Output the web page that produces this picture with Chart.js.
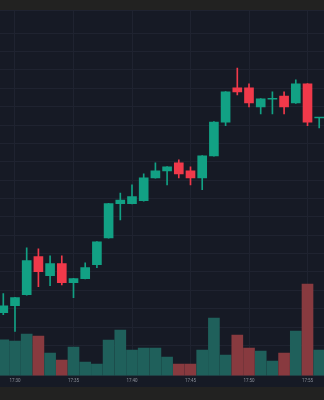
<!DOCTYPE html>
<html>
<head>
<meta charset="utf-8">
<script src="https://cdn.jsdelivr.net/npm/chart.js@4.4.1/dist/chart.umd.min.js"></script>
<style>
  html, body { margin: 0; padding: 0; width: 324px; height: 400px; overflow: hidden; background: #222221; }
  #wrap { position: absolute; left: 0; top: 10px; width: 324px; height: 377px; background: #161a25; }
</style>
</head>
<body>
<div id="wrap"><canvas id="chart" width="324" height="377"></canvas></div>
<script>
// one candle per minute, 17:29 .. 17:56
const times = ['17:29', '17:30', '17:31', '17:32', '17:33', '17:34', '17:35', '17:36', '17:37', '17:38',
  '17:39', '17:40', '17:41', '17:42', '17:43', '17:44', '17:45', '17:46', '17:47', '17:48',
  '17:49', '17:50', '17:51', '17:52', '17:53', '17:54', '17:55', '17:56'];

const opens = [104.89, 105.08, 105.38, 106.42, 105.90, 106.23, 105.71, 105.82, 106.20, 106.93,
  107.86, 107.86, 107.94, 108.56, 108.75, 108.97, 108.75, 108.56, 109.16, 110.08,
  111.01, 111.01, 110.49, 110.70, 110.79, 110.60, 111.12, 110.19];
const highs = [105.41, 105.31, 106.66, 106.63, 106.44, 106.44, 105.83, 106.25, 106.83, 107.87,
  108.15, 108.37, 108.67, 108.97, 108.87, 109.05, 108.86, 109.17, 110.09, 110.91,
  111.55, 111.12, 110.72, 110.90, 110.90, 111.23, 111.13, 110.21];
const lows = [104.84, 104.38, 105.37, 105.60, 105.63, 105.65, 105.30, 105.81, 106.12, 106.92,
  107.42, 107.85, 107.93, 108.55, 108.37, 108.56, 108.37, 108.24, 109.15, 109.98,
  110.82, 110.49, 110.30, 110.30, 110.30, 110.59, 109.98, 109.92];
const closes = [105.08, 105.30, 106.31, 106.01, 106.23, 105.71, 105.82, 106.12, 106.82, 107.86,
  107.96, 108.05, 108.56, 108.75, 108.86, 108.67, 108.56, 109.16, 110.08, 110.90,
  110.90, 110.60, 110.71, 110.71, 110.49, 111.12, 110.08, 110.20];
const volumes = [358, 345, 415, 395, 225, 155, 285, 135, 115, 355,
  455, 255, 275, 275, 185, 115, 115, 255, 575, 205,
  405, 275, 245, 145, 225, 445, 915, 255];

const upColor = '#12a184';
const downColor = '#f0394a';
const upVol = '#1f605b';
const downVol = '#883a3f';
const gridColor = '#1f2330';

// x = minutes after 17:30
const xs = times.map((t, i) => i - 1);
const isUp = opens.map((o, i) => closes[i] >= o);

const bodies = xs.map((x, i) => ({ x: x, y: [opens[i], closes[i]] }));
const wicks = xs.map((x, i) => ({ x: x, y: [lows[i], highs[i]] }));
const vols = xs.map((x, i) => ({ x: x, y: volumes[i] }));
const candleColors = isUp.map((u) => (u ? upColor : downColor));
const volColors = isUp.map((u) => (u ? upVol : downVol));

new Chart(document.getElementById('chart'), {
  type: 'bar',
  data: {
    datasets: [
      {
        data: bodies,
        yAxisID: 'y',
        backgroundColor: candleColors,
        barThickness: 9,
        minBarLength: 1,
        grouped: false,
        order: 0
      },
      {
        data: wicks,
        yAxisID: 'y',
        backgroundColor: candleColors,
        barThickness: 1,
        grouped: false,
        order: 1
      },
      {
        data: vols,
        yAxisID: 'v',
        backgroundColor: volColors,
        barThickness: 11,
        grouped: false,
        order: 2
      }
    ]
  },
  options: {
    responsive: false,
    animation: false,
    layout: { padding: 0 },
    plugins: {
      legend: { display: false },
      tooltip: { enabled: false }
    },
    scales: {
      x: {
        type: 'linear',
        offset: false,
        min: -1.282,
        max: 26.41,
        border: { display: false },
        grid: { color: gridColor, drawTicks: false, offset: false },
        ticks: {
          stepSize: 5,
          includeBounds: false,
          autoSkip: false,
          maxRotation: 0,
          padding: 3,
          color: '#8a8e98',
          font: { family: 'Roboto', size: 4.5 },
          callback: (v) => times[v + 1]
        }
      },
      y: {
        min: 103.18,
        max: 113.13,
        border: { display: false },
        grid: { color: gridColor, drawTicks: false },
        ticks: { display: false, stepSize: 0.5 }
      },
      v: {
        display: false,
        min: 0,
        max: 3660
      }
    }
  }
});
</script>
</body>
</html>
